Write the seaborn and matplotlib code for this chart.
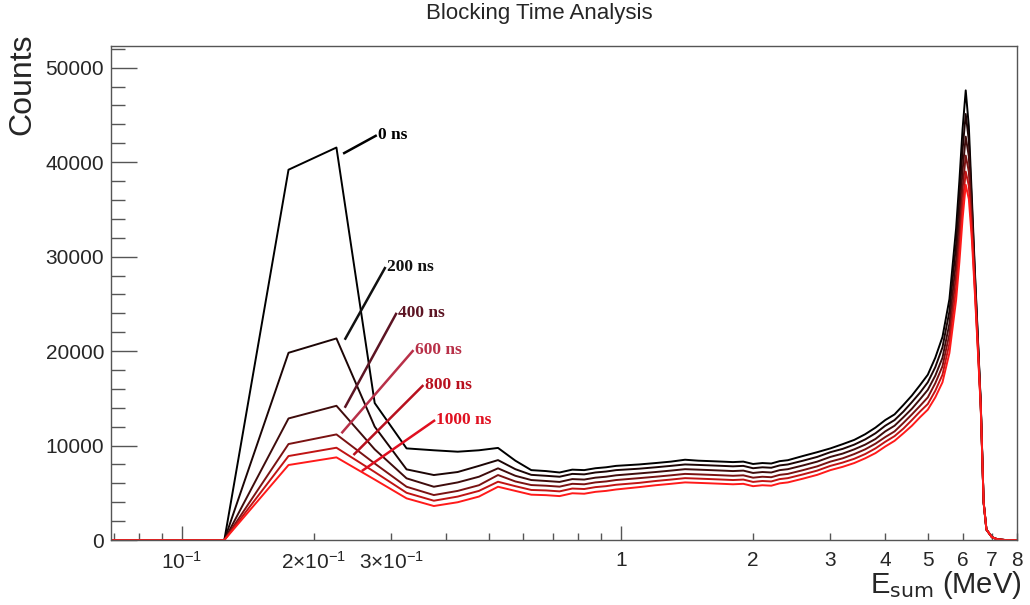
import numpy as np
import pandas as pd
import matplotlib
matplotlib.use("Agg")
import matplotlib.pyplot as plt
import seaborn as sns
from matplotlib.ticker import FixedLocator, FixedFormatter, MultipleLocator

# ---------------- data ----------------
energy = [0.025, 0.075, 0.125, 0.175, 0.225, 0.275, 0.325, 0.375, 0.425, 0.475, 0.525,
          0.575, 0.625, 0.675, 0.725, 0.775, 0.825, 0.875, 0.925, 0.975,
          1.1, 1.2, 1.3, 1.4, 1.5, 1.6, 1.7, 1.8, 1.9, 2.0, 2.1, 2.2, 2.3, 2.4,
          2.6, 2.8, 3.0, 3.2, 3.4, 3.6, 3.8, 4.0, 4.2, 4.4, 4.6, 4.8, 5.0, 5.2, 5.4, 5.6, 5.8,
          5.9, 6.0, 6.1, 6.2, 6.3, 6.4, 6.5, 6.6, 6.7, 6.8,
          7.0, 7.2, 7.5, 8.0]

counts_0ns = [0, 0, 0, 39200, 41550, 14500, 9700, 9500, 9350, 9500, 9750,
              8400, 7400, 7300, 7150, 7450, 7400, 7600, 7700, 7850,
              8000, 8150, 8300, 8500, 8400, 8350, 8300, 8250, 8300, 8050, 8150, 8100, 8350, 8450,
              8900, 9300, 9700, 10150, 10600, 11200, 11900, 12700, 13300, 14300, 15300, 16400, 17500, 19300, 21500, 25500, 33000,
              38000, 43500, 47600, 43800, 36200, 28500, 21500, 14500, 4000, 1100,
              300, 80, 0, 0]

counts_200ns = [0, 0, 0, 19820, 21340, 12000, 7480, 6880, 7200, 7850, 8460,
                7500, 6900, 6800, 6700, 7000, 6950, 7150, 7250, 7400,
                7550, 7700, 7850, 8000, 7950, 7900, 7850, 7800, 7850, 7600, 7700, 7650, 7900, 8000,
                8400, 8800, 9300, 9650, 10100, 10650, 11300, 12100, 12700, 13600, 14600, 15600, 16700, 18300, 20400, 24200, 31300,
                36100, 41300, 45100, 42300, 35400, 28100, 21300, 14400, 4000, 1100,
                300, 80, 0, 0]

counts_400ns = [0, 0, 0, 12870, 14210, 9600, 6530, 5640, 6100, 6700, 7590,
                6800, 6350, 6250, 6150, 6450, 6400, 6600, 6700, 6850,
                7050, 7200, 7350, 7500, 7450, 7400, 7350, 7300, 7350, 7100, 7200, 7150, 7400, 7500,
                7900, 8300, 8800, 9150, 9600, 10100, 10700, 11500, 12100, 13000, 13900, 14900, 15900, 17400, 19300, 22900, 29600,
                34200, 39100, 42700, 40600, 34500, 27600, 21000, 14300, 4000, 1100,
                300, 80, 0, 0]

counts_600ns = [0, 0, 0, 10160, 11180, 8100, 5640, 4760, 5200, 5800, 6880,
                6200, 5820, 5750, 5650, 5950, 5900, 6100, 6200, 6350,
                6550, 6700, 6850, 7000, 6950, 6900, 6850, 6800, 6850, 6600, 6700, 6650, 6900, 7000,
                7400, 7800, 8300, 8650, 9100, 9600, 10200, 10900, 11500, 12400, 13300, 14200, 15100, 16600, 18400, 21800, 28100,
                32400, 37200, 40700, 39000, 33600, 27100, 20700, 14200, 4000, 1100,
                300, 80, 0, 0]

counts_800ns = [0, 0, 0, 8890, 9770, 7200, 5000, 4160, 4600, 5200, 6170,
                5700, 5300, 5250, 5150, 5450, 5400, 5600, 5700, 5850,
                6050, 6250, 6400, 6550, 6500, 6450, 6400, 6350, 6400, 6150, 6250, 6200, 6450, 6550,
                6950, 7350, 7850, 8200, 8600, 9100, 9700, 10400, 11000, 11800, 12700, 13600, 14400, 15800, 17500, 20800, 26700,
                30800, 35500, 39000, 37500, 32700, 26600, 20400, 14100, 4000, 1100,
                300, 80, 0, 0]

counts_1000ns = [0, 0, 0, 7940, 8750, 6400, 4410, 3600, 4000, 4600, 5640,
                 5200, 4800, 4750, 4650, 4950, 4900, 5100, 5200, 5350,
                 5600, 5800, 5950, 6100, 6050, 6000, 5950, 5900, 5950, 5700, 5800, 5750, 6000, 6100,
                 6500, 6900, 7400, 7750, 8150, 8650, 9200, 9900, 10500, 11300, 12100, 13000, 13800, 15100, 16700, 19800, 25400,
                 29400, 34000, 37600, 36100, 31800, 26100, 20100, 14000, 4000, 1100,
                 300, 80, 0, 0]

series_labels = ["0 ns", "200 ns", "400 ns", "600 ns", "800 ns", "1000 ns"]
line_colors = ["#000000", "#1c0505", "#3f0c0c", "#7a1212", "#c01414", "#ff1a1a"]
label_colors = ["#000000", "#111111", "#5c1423", "#b83048", "#b8101e", "#e01020"]

# label leader lines: (start on curve) -> (end at text), data coordinates
lead_start_x = [0.233, 0.235, 0.235, 0.231, 0.246, 0.257]
lead_start_y = [40900, 21200, 14000, 11300, 9000, 7300]
lead_end_x = [0.278, 0.291, 0.3085, 0.337, 0.355, 0.3775]
lead_end_y = [42850, 28900, 24050, 20100, 16400, 12700]

x_major_ticks = [0.1, 1]
x_major_labels = [r"$10^{-1}$", "1"]
x_minor_ticks = [0.07, 0.08, 0.09, 0.2, 0.3, 0.4, 0.5, 0.6, 0.7, 0.8, 0.9,
                 2, 3, 4, 5, 6, 7, 8]
x_minor_labels = ["", "", "", r"$2{\times}10^{-1}$", r"$3{\times}10^{-1}$", "", "", "", "", "", "",
                  "2", "3", "4", "5", "6", "7", "8"]

# ---------------- build long-form table ----------------
all_counts = [counts_0ns, counts_200ns, counts_400ns, counts_600ns, counts_800ns, counts_1000ns]
frames = []
for lab, cts in zip(series_labels, all_counts):
    frames.append(pd.DataFrame({"E": energy, "Counts": cts, "series": lab}))
df = pd.concat(frames, ignore_index=True)

# ---------------- style ----------------
sns.set_style("white")
plt.rcParams["font.family"] = ["Liberation Sans", "DejaVu Sans"]
plt.rcParams["mathtext.default"] = "regular"

fig = plt.figure(figsize=(10.3, 6.05), dpi=100)
ax = fig.add_axes([0.1078, 0.1074, 0.880, 0.8166])

sns.lineplot(data=df, x="E", y="Counts", hue="series", hue_order=series_labels,
             palette=dict(zip(series_labels, line_colors)), estimator=None, sort=False,
             lw=1.4, legend=False, ax=ax)

ax.set_xscale("log")
ax.set_xlim(0.069, 8.0)
ax.set_ylim(0, 52300)
ax.set_xlabel("")
ax.set_ylabel("")

# x ticks
ax.xaxis.set_major_locator(FixedLocator(x_major_ticks))
ax.xaxis.set_major_formatter(FixedFormatter(x_major_labels))
ax.xaxis.set_minor_locator(FixedLocator(x_minor_ticks))
ax.xaxis.set_minor_formatter(FixedFormatter(x_minor_labels))
ax.tick_params(axis="x", which="major", direction="in", length=10, width=1,
               color="#555555", labelsize=15, pad=8, top=False, bottom=True)
ax.tick_params(axis="x", which="minor", direction="in", length=5, width=1,
               color="#555555", labelsize=15, pad=8, top=False, bottom=True)

# y ticks
ax.yaxis.set_major_locator(MultipleLocator(10000))
ax.yaxis.set_minor_locator(MultipleLocator(2000))
ax.yaxis.set_major_formatter(plt.FuncFormatter(lambda v, p: f"{int(v)}"))
ax.tick_params(axis="y", which="major", direction="in", length=19, width=1,
               color="#555555", labelsize=15, pad=5, left=True, right=False)
ax.tick_params(axis="y", which="minor", direction="in", length=10, width=1,
               color="#555555", left=True, right=False)

for s in ax.spines.values():
    s.set_color("#555555")
    s.set_linewidth(1.0)
    s.set_visible(True)

# label leader lines and texts
for i, lab in enumerate(series_labels):
    ax.plot([lead_start_x[i], lead_end_x[i]], [lead_start_y[i], lead_end_y[i]],
            color=label_colors[i], lw=1.8, solid_capstyle="butt")
    ax.text(lead_end_x[i] * 1.006, lead_end_y[i], lab, color=label_colors[i],
            family=["Liberation Serif", "DejaVu Serif"], fontweight="bold",
            fontsize=12.5, ha="left", va="center")

fig.text(0.524, 0.977, "Blocking Time Analysis", ha="center", va="center", fontsize=16)
fig.text(0.0214, 0.86, "Counts", rotation=90, ha="center", va="center", fontsize=23)
fig.text(0.992, 0.0198, r"E$_{\mathrm{sum}}$ (MeV)", ha="right", va="baseline", fontsize=21)

fig.savefig("out.png", dpi=100, facecolor="white")
